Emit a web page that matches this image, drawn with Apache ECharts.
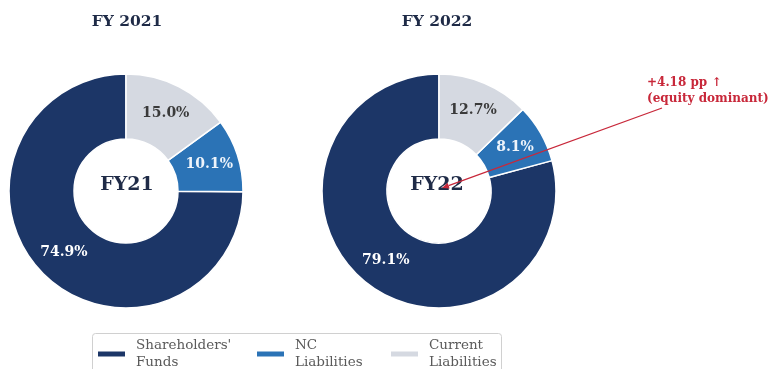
<!DOCTYPE html>
<html>
<head>
<meta charset="utf-8">
<script src="https://cdn.jsdelivr.net/npm/echarts@6/dist/echarts.min.js"></script>
<style>
  html, body { margin: 0; padding: 0; background: #ffffff; }
  #chart { width: 771px; height: 369px; }
</style>
</head>
<body>
<div id="chart"></div>
<script>
// Capital structure split (% of total funding) for two fiscal years
const categories = ["Shareholders' Funds", "NC Liabilities", "Current Liabilities"];
const fy21Values = [74.9, 10.1, 15.0];
const fy22Values = [79.1, 8.1, 12.7];
const panelTitles = ['FY 2021', 'FY 2022'];
const centerLabels = ['FY21', 'FY22'];
const annotationLines = ['+4.18 pp \u2191', '(equity dominant)'];

// Styling
const SERIF = 'DejaVu Serif';
const sliceColors = ['#1c3667', '#2b73b6', '#d5d9e1'];
const sliceLabelColors = ['#ffffff', '#eef4fb', '#3a3a3a'];
const navy = '#1f2b47';
const red = '#c8283a';

// Layout
const pieCenters = [[126, 191], [439, 191]];
const titleX = [127, 437];
const ringRadius = [52, 117];

function ring(values, center) {
  return {
    type: 'pie',
    center: center,
    radius: ringRadius,
    startAngle: 90,
    clockwise: false,
    silent: true,
    avoidLabelOverlap: false,
    itemStyle: { borderColor: '#ffffff', borderWidth: 1.5 },
    label: {
      show: true,
      position: 'inside',
      fontFamily: SERIF,
      fontWeight: 'bold',
      fontSize: 14,
      formatter: p => p.value.toFixed(1) + '%'
    },
    labelLine: { show: false },
    emphasis: { disabled: true },
    data: categories.map((name, i) => ({
      name: name,
      value: values[i],
      itemStyle: { color: sliceColors[i] },
      label: { color: sliceLabelColors[i] }
    }))
  };
}

// Arrow from the annotation text to the FY22 ring centre
const arrowTail = [662, 108];
const arrowTip = [442, 188];
const ang = Math.atan2(arrowTip[1] - arrowTail[1], arrowTip[0] - arrowTail[0]);
const headLen = 7, headHalf = 3;
const hx = arrowTip[0] - headLen * Math.cos(ang);
const hy = arrowTip[1] - headLen * Math.sin(ang);
const arrowHead = [
  arrowTip,
  [hx + headHalf * Math.sin(ang), hy - headHalf * Math.cos(ang)],
  [hx - headHalf * Math.sin(ang), hy + headHalf * Math.cos(ang)]
];

const legendLefts = [96, 255, 389];

const option = {
  backgroundColor: '#ffffff',
  animation: false,
  legend: categories.map((name, i) => ({
    data: [name],
    left: legendLefts[i],
    top: 337,
    padding: 0,
    orient: 'horizontal',
    selectedMode: false,
    itemWidth: 29,
    itemHeight: 7,
    icon: 'rect',
    formatter: n => n.replace(' ', '\n'),
    textStyle: {
      fontFamily: SERIF,
      fontSize: 13.5,
      lineHeight: 17,
      color: '#5a5a5a',
      padding: [0, 0, 0, 5]
    }
  })),
  series: [ring(fy21Values, pieCenters[0]), ring(fy22Values, pieCenters[1])],
  graphic: [
    // legend frame
    {
      type: 'rect', z: 1, silent: true,
      shape: { x: 92.5, y: 333.5, width: 409, height: 45, r: 3 },
      style: { fill: 'none', stroke: '#d0d0d0', lineWidth: 1 }
    },
    // panel titles
    ...panelTitles.map((t, i) => ({
      type: 'text', silent: true,
      x: titleX[i], y: 22,
      style: {
        text: t, fill: navy, font: 'bold 15.5px "' + SERIF + '"',
        align: 'center', verticalAlign: 'middle'
      }
    })),
    // ring centre labels
    ...centerLabels.map((t, i) => ({
      type: 'text', silent: true, z: 5,
      x: titleX[i], y: 185,
      style: {
        text: t, fill: navy, font: 'bold 19px "' + SERIF + '"',
        align: 'center', verticalAlign: 'middle'
      }
    })),
    // annotation text
    ...annotationLines.map((t, i) => ({
      type: 'text', silent: true,
      x: 647, y: 83 + i * 16,
      style: {
        text: t, fill: red, font: 'bold 12px "' + SERIF + '"',
        align: 'left', verticalAlign: 'middle'
      }
    })),
    // annotation arrow
    {
      type: 'line', silent: true, z: 10,
      shape: { x1: arrowTail[0], y1: arrowTail[1], x2: hx, y2: hy },
      style: { stroke: red, lineWidth: 1.3 }
    },
    {
      type: 'polygon', silent: true, z: 10,
      shape: { points: arrowHead },
      style: { fill: red }
    }
  ]
};

const chart = echarts.init(document.getElementById('chart'), null, { renderer: 'canvas' });
chart.setOption(option);
</script>
</body>
</html>
